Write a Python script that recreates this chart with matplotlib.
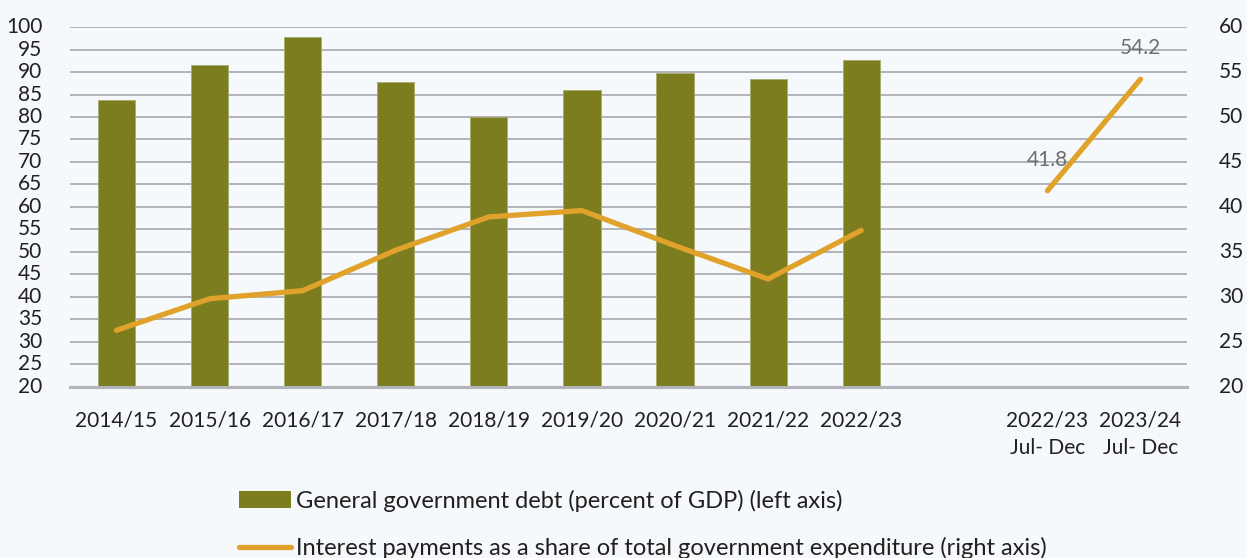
import matplotlib

matplotlib.use("Agg")

import matplotlib.pyplot as plt  # noqa: E402
import numpy as np  # noqa: E402
from matplotlib.lines import Line2D  # noqa: E402
from matplotlib.patches import Patch  # noqa: E402

# fiscal years, then a blank slot, then the two half-year periods
PERIODS = ["2014/15", "2015/16", "2016/17", "2017/18", "2018/19", "2019/20",
           "2020/21", "2021/22", "2022/23", "",
           "2022/23\nJul- Dec", "2023/24\nJul- Dec"]
DEBT_GDP = [83.8, 91.6, 97.7, 87.8, 80.0, 86.1, 89.8, 88.4, 92.7,
            np.nan, np.nan, np.nan]
INTEREST_SHARE = [26.3, 29.8, 30.7, 35.2, 38.9, 39.6, 35.7, 32.0, 37.4,
                  np.nan, 41.8, 54.2]
LABELLED = [10, 11]  # points carrying a value label

BG = "#f5f9fc"
BAR_COLOR = "#7b7d1f"
LINE_COLOR = "#e0a22a"
GRID_COLOR = "#b3b4b9"
TEXT_COLOR = "#231f20"

plt.rcParams["font.family"] = ["Lato", "DejaVu Sans"]
plt.rcParams["font.size"] = 15

fig = plt.figure(figsize=(12.47, 5.58), dpi=100, facecolor=BG)
ax = fig.add_axes([0.0561, 0.3065, 0.8958, 0.6451])
ax.set_facecolor(BG)
ax2 = ax.twinx()

x = np.arange(len(PERIODS))
ax.bar(x, DEBT_GDP, width=0.4, bottom=0, color=BAR_COLOR,
       edgecolor="#a9aa6a", linewidth=0.6, zorder=3)
ax.set_ylim(20, 100)
ax.set_yticks(np.arange(20, 101, 5))
ax.set_xlim(-0.5, len(PERIODS) - 0.5)
ax.set_xticks(x)
ax.set_xticklabels(PERIODS, color=TEXT_COLOR, linespacing=1.45)
ax.grid(axis="y", color=GRID_COLOR, linewidth=1.4, zorder=0)
ax.set_axisbelow(True)

ax2.plot(x, INTEREST_SHARE, color=LINE_COLOR, linewidth=3.8,
         solid_capstyle="round", solid_joinstyle="round", zorder=4)
ax2.set_ylim(20, 60)
ax2.set_yticks(np.arange(20, 61, 5))

for i in LABELLED:
    ax2.annotate(f"{INTEREST_SHARE[i]:.1f}", (x[i], INTEREST_SHARE[i]),
                 xytext=(0, 15), textcoords="offset points",
                 ha="center", va="bottom", color="#6d6e71", fontsize=15)

for a in (ax, ax2):
    for side in ("top", "left", "right"):
        a.spines[side].set_visible(False)
    a.spines["bottom"].set_color(GRID_COLOR)
    a.spines["bottom"].set_linewidth(2.2)
    a.tick_params(axis="both", length=0, labelcolor=TEXT_COLOR)
ax.tick_params(axis="y", pad=20)
ax.tick_params(axis="x", pad=17)
ax2.tick_params(axis="y", pad=23)
for lbl in ax.get_yticklabels() + ax2.get_yticklabels():
    lbl.set_verticalalignment("center")

handles = [
    Patch(facecolor=BAR_COLOR, edgecolor="none",
          label="General government debt (percent of GDP) (left axis)"),
    Line2D([], [], color=LINE_COLOR, linewidth=3.8, solid_capstyle="round",
           label="Interest payments as a share of total government expenditure (right axis)"),
]
fig.legend(handles=handles, loc="upper left", bbox_to_anchor=(0.1917, 0.122),
           frameon=False, handlelength=2.2, handletextpad=0.22,
           labelspacing=1.05, borderaxespad=0, borderpad=0,
           labelcolor=TEXT_COLOR, fontsize=17)

fig.savefig("out.png", dpi=100, facecolor=BG)
